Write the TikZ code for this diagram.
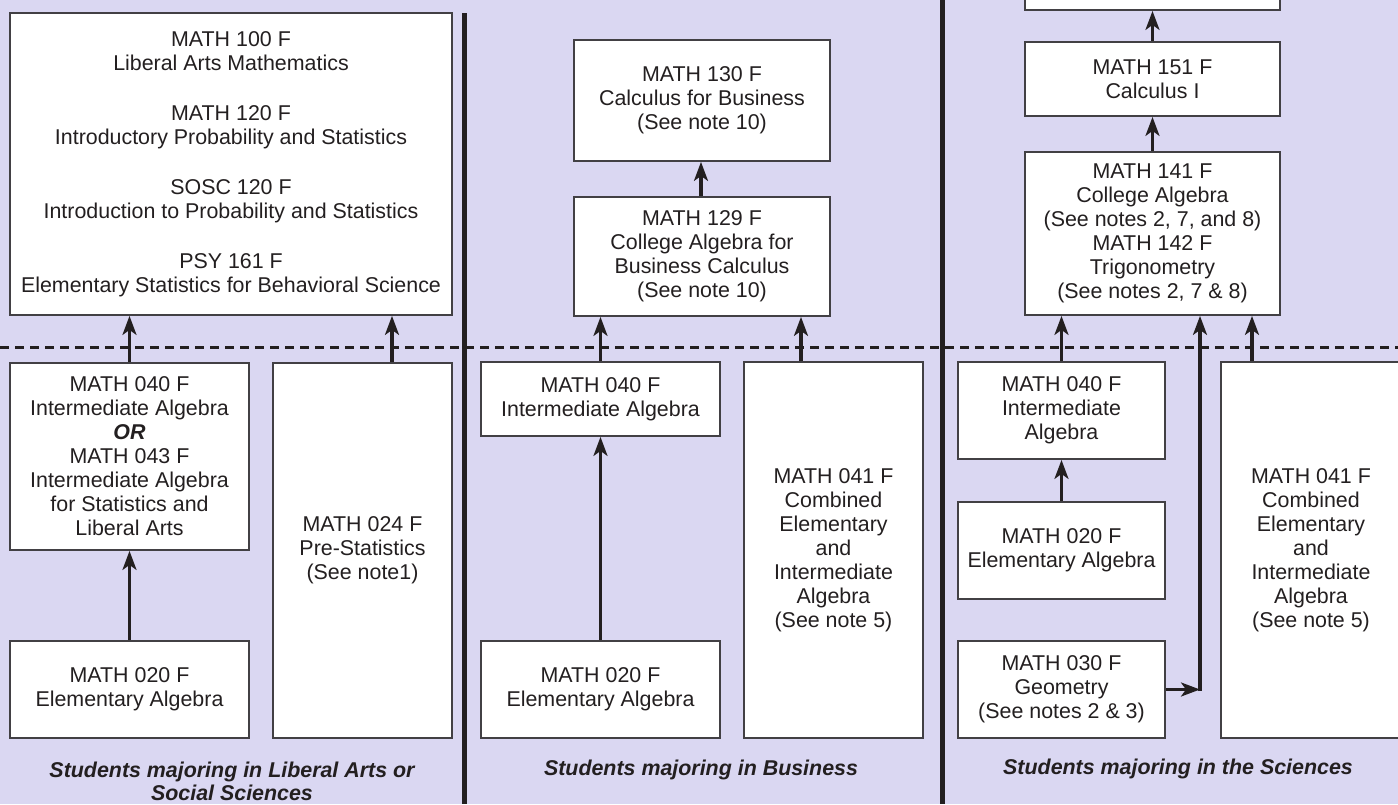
\documentclass[tikz,border=0pt]{standalone}
\usepackage{fontspec}
\setmainfont{Liberation Sans}
\usetikzlibrary{arrows.meta}
\definecolor{bgc}{RGB}{218,215,242}
\definecolor{ink}{RGB}{35,31,32}
\definecolor{edgec}{RGB}{66,64,68}
\begin{document}
\begin{tikzpicture}[x=1pt,y=-1pt,
  box/.style={draw=edgec, line width=1.8pt, fill=white, text=ink, align=center,
    inner sep=0pt, font=\fontsize{21.4}{24}\selectfont},
  arr/.style={draw=ink, line width=3.1pt, -{Stealth[length=19pt 0 0,width=14pt 0 0,inset=5pt 0 0]}},
  divider/.style={draw=ink, line width=5pt},
  dashline/.style={draw=ink, line width=3pt, dash pattern=on 9pt off 6pt},
  majorlabel/.style={text=ink, align=center, inner sep=0pt,
    font=\fontsize{21.4}{23}\selectfont\bfseries\itshape}]
\useasboundingbox (0,0) rectangle (1398,804);
\clip (0,0) rectangle (1398,804);
\fill[bgc] (0,0) rectangle (1398,804);

% dashed boundary
\draw[dashline] (0,347) -- (1398,347);
% column dividers
\draw[divider] (464.5,13) -- (464.5,804);
\draw[divider] (942.5,0) -- (942.5,804);

% ---------- Liberal Arts / Social Sciences ----------
\node[box, minimum width=442pt, minimum height=302pt] (latop) at (231,164)
  {MATH 100 F\\ Liberal Arts Mathematics\\[26pt]
   MATH 120 F\\ Introductory Probability and Statistics\\[26pt]
   SOSC 120 F\\ Introduction to Probability and Statistics\\[26pt]
   PSY 161 F\\ Elementary Statistics for Behavioral Science};
\node[box, minimum width=239pt, minimum height=187pt] (la040) at (129.5,456.5)
  {MATH 040 F\\ Intermediate Algebra\\ \textbf{\textit{OR}}\\ MATH 043 F\\
   Intermediate Algebra\\ for Statistics and\\ Liberal Arts};
\node[box, minimum width=239pt, minimum height=97pt] (la020) at (129.5,689.5)
  {MATH 020 F\\ Elementary Algebra};
\node[box, minimum width=179pt, minimum height=375pt] (la024) at (362.5,550.5)
  {MATH 024 F\\ Pre-Statistics\\ (See note1)};
\node[majorlabel] (lalabel) at (232,781.5)
  {Students majoring in Liberal Arts or\\ Social Sciences};

% ---------- Business ----------
\node[box, minimum width=256pt, minimum height=121pt] (bus130) at (702,100.5)
  {MATH 130 F\\ Calculus for Business\\ (See note 10)};
\node[box, minimum width=256pt, minimum height=119pt] (bus129) at (702,256.5)
  {MATH 129 F\\ College Algebra for\\ Business Calculus\\ (See note 10)};
\node[box, minimum width=239pt, minimum height=74pt] (bus040) at (600.5,399)
  {MATH 040 F\\ Intermediate Algebra};
\node[box, minimum width=179pt, minimum height=376pt] (bus041) at (833.5,550)
  {MATH 041 F\\ Combined\\ Elementary\\ and\\ Intermediate\\ Algebra\\ (See note 5)};
\node[box, minimum width=239pt, minimum height=97pt] (bus020) at (600.5,689.5)
  {MATH 020 F\\ Elementary Algebra};
\node[majorlabel] (buslabel) at (701,770)
  {Students majoring in Business};

% ---------- Sciences ----------
\node[box, minimum width=255pt, minimum height=60pt] (sci152) at (1152.5,-20) {};
\node[box, minimum width=255pt, minimum height=74pt] (sci151) at (1152.5,79)
  {MATH 151 F\\ Calculus I};
\node[box, minimum width=255pt, minimum height=163pt] (sci141) at (1152.5,233.5)
  {MATH 141 F\\ College Algebra\\ (See notes 2, 7, and 8)\\ MATH 142 F\\
   Trigonometry\\ (See notes 2, 7 \& 8)};
\node[box, minimum width=207pt, minimum height=97pt] (sci040) at (1061.5,410.5)
  {MATH 040 F\\ Intermediate\\ Algebra};
\node[box, minimum width=207pt, minimum height=97pt] (sci020) at (1061.5,550.5)
  {MATH 020 F\\ Elementary Algebra};
\node[box, minimum width=207pt, minimum height=97pt] (sci030) at (1061.5,689.5)
  {MATH 030 F\\ Geometry\\ (See notes 2 \& 3)};
\node[box, minimum width=180pt, minimum height=376pt] (sci041) at (1311,550)
  {MATH 041 F\\ Combined\\ Elementary\\ and\\ Intermediate\\ Algebra\\ (See note 5)};
\node[majorlabel] (scilabel) at (1178,769)
  {Students majoring in the Sciences};

% ---------- connectors ----------
\draw[arr] (la020.north) -- (la040.south);
\draw[arr] (la040.north) -- (la040.north |- latop.south);
\draw[arr] ([xshift=29.5pt]la024.north) -- ([xshift=29.5pt]la024.north |- latop.south);

\draw[arr] (bus020.north) -- (bus040.south);
\draw[arr] (bus040.north) -- (bus040.north |- bus129.south);
\draw[arr] ([xshift=-32.5pt]bus041.north) -- ([xshift=-32.5pt]bus041.north |- bus129.south);
\draw[arr] ([xshift=-1pt]bus129.north) -- ([xshift=-1pt]bus129.north |- bus130.south);

\draw[arr] (sci020.north) -- (sci040.south);
\draw[arr] (sci040.north) -- (sci040.north |- sci141.south);
\draw[arr] ([xshift=-59pt]sci041.north) -- ([xshift=-59pt]sci041.north |- sci141.south);
\draw[arr] (sci141.north) -- (sci151.south);
\draw[arr] (sci151.north) -- (sci152.south);
\coordinate (bend) at (1200,689.5);
\draw[arr] (sci030.east) -- (bend);
\draw[arr] ([yshift=-1.5pt]bend) -- (bend |- sci141.south);
\end{tikzpicture}
\end{document}
